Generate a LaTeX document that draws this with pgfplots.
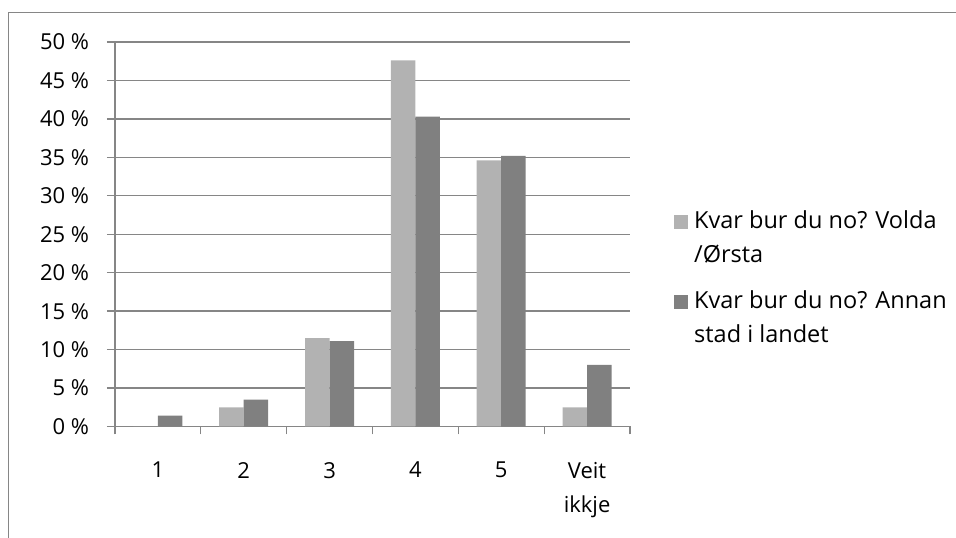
\documentclass[border=0pt]{standalone}
\usepackage{pgfplots}
\pgfplotsset{compat=1.18}
\usepackage{fontspec}
\setmainfont{Open Sans}
\definecolor{lightbar}{RGB}{178,178,178}
\definecolor{darkbar}{RGB}{128,128,128}
\definecolor{gridc}{RGB}{134,134,134}
\newcommand{\chartfont}{\fontsize{22}{34}\selectfont}
\newcommand{\legfont}{\fontsize{23.5}{34}\selectfont}
\begin{document}
\begin{tikzpicture}[x=1pt,y=1pt]
\useasboundingbox (0,0) rectangle (956,538);
\draw[gridc,line width=1.2pt] (8.5,0) -- (8.5,525.5) -- (956,525.5);
\begin{axis}[
  at={(115pt,111.5pt)}, anchor=south west,
  scale only axis, width=515pt, height=384.5pt,
  xmin=-0.5, xmax=5.5, ymin=0, ymax=50,
  axis x line*=bottom, axis y line*=left,
  axis line style={gridc, line width=1.3pt},
  ybar=0pt, bar width=24.5pt,
  ytick={0,5,...,50},
  yticklabels={0 \%,5 \%,10 \%,15 \%,20 \%,25 \%,30 \%,35 \%,40 \%,45 \%,50 \%},
  ymajorgrids, major grid style={gridc,line width=1.3pt},
  xtick={0,...,5},
  xticklabels={1,2,3,4,5,{Veit\\ikkje}},
  minor xtick={-0.5,0.5,...,5.5},
  tick align=outside,
  major tick length=8pt, minor tick length=8pt,
  major x tick style={draw=none},
  tick style={gridc,line width=1.3pt},
  minor tick style={gridc,line width=1.3pt},
  tick label style={font=\chartfont, inner sep=0pt},
  xticklabel style={align=center, anchor=north, yshift=-27.5pt},
  yticklabel style={anchor=east, xshift=-17.7pt},
  clip=false,
]
\addplot[fill=lightbar, draw=none] coordinates {(0,0) (1,2.5) (2,11.5) (3,47.6) (4,34.6) (5,2.5)};
\addplot[fill=darkbar, draw=none] coordinates {(0,1.4) (1,3.5) (2,11.1) (3,40.3) (4,35.2) (5,8.0)};
\end{axis}
\fill[lightbar] (673.5,538-229) rectangle ++(14,14);
\fill[darkbar] (673.5,538-309) rectangle ++(14,14);
\node[anchor=base west, inner sep=0pt, font=\legfont] at (694,538-229) {Kvar bur du no? Volda};
\node[anchor=base west, inner sep=0pt, font=\legfont] at (694,538-263) {/Ørsta};
\node[anchor=base west, inner sep=0pt, font=\legfont] at (694,538-309) {Kvar bur du no? Annan};
\node[anchor=base west, inner sep=0pt, font=\legfont] at (694,538-343) {stad i landet};
\end{tikzpicture}
\end{document}
